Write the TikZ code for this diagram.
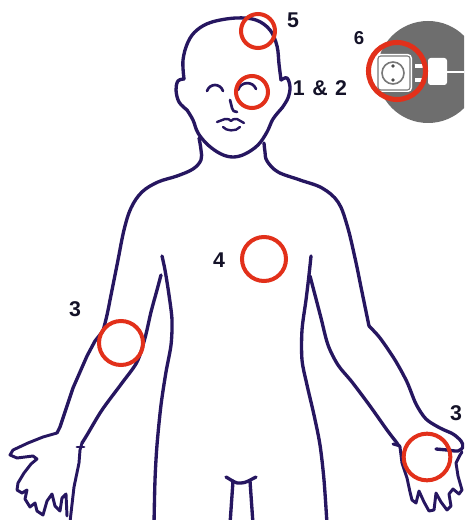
\documentclass[tikz,border=0pt]{standalone}
\usepackage{fontspec}
\setmainfont{Liberation Sans}
\definecolor{ink}{RGB}{38,22,96}
\definecolor{ringred}{RGB}{226,48,26}
\definecolor{plate}{RGB}{110,110,110}
\definecolor{socketline}{RGB}{120,120,120}
\definecolor{labelink}{RGB}{20,18,40}
\begin{document}
\begin{tikzpicture}[x=0.75pt,y=-0.75pt,
  outline/.style={draw=ink, line width=2.5pt, line join=round, line cap=round},
  thin outline/.style={outline, line width=2.2pt},
  ring/.style={circle, draw=ringred, line width=3pt, inner sep=0pt},
  num/.style={font=\fontsize{16}{18}\selectfont\bfseries, text=labelink, inner sep=0pt}]
\useasboundingbox (0,0) rectangle (464,520);
\clip (0,0) rectangle (464,520);
\fill[white] (0,0) rectangle (464,520);

% --- socket badge, top right ---
\fill[plate] (428,72) circle[radius=51];
\fill[white, rounded corners=3pt] (376,54) rectangle (412,92);
\draw[socketline, line width=0.8pt, rounded corners=2pt] (378,56) rectangle (410,90);
\draw[socketline, line width=1.2pt] (393,73) circle[radius=11];
\fill[black!70] (393,66) circle[radius=1.8];
\fill[black!70] (393,80) circle[radius=1.8];
\fill[white] (415,64) rectangle (426,68);
\fill[white] (415,78) rectangle (426,82);
\fill[white, rounded corners=2pt] (428,58) rectangle (447,85);
\draw[white, line width=1.5pt] (446,72) -- (470,72);

% --- head ---
\draw[outline] plot[smooth, tension=0.6] coordinates {(184,79) (183,60) (188,42) (197,30) (212,22) (236,18) (256,20) (270,30) (277,46) (279,64) (281,80)};
\draw[outline] plot[smooth, tension=0.6] coordinates {(184,79) (178,81) (176,90) (179,102) (187,110)};
\draw[outline] plot[smooth, tension=0.6] coordinates {(281,80) (287,78) (290,87) (288,98) (282,108)};
\draw[outline] plot[smooth, tension=0.6] coordinates {(187,110) (193,120) (198,133) (208,145) (221,154) (233,157) (245,154) (258,145) (267,132) (273,119) (282,108)};

% --- face ---
\draw[outline, line width=2pt] (207,91) .. controls (210,83) and (220,83) .. (223,91);
\draw[outline, line width=2pt] (238,90) .. controls (241,81) and (253,81) .. (256,89);
\draw[outline, line width=2pt] (230,100) -- (232,108) .. controls (233,111) .. (237,112);
\draw[outline, line width=1.8pt] (217,122) .. controls (221,121) .. (225,119) .. controls (228,118) and (230,120) .. (231,121) .. controls (232,120) and (234,118) .. (237,119) .. controls (240,121) .. (244,123);
\draw[outline, line width=1.8pt] (223,127) .. controls (226,131) and (236,132) .. (240,127);

% --- neck, shoulders and outer arms ---
\draw[outline] plot[smooth, tension=0.6] coordinates {(199,138) (201,150) (201,160) (193,169) (177,176) (158,182) (142,192) (131,208) (124,230) (118,260) (112,290) (107,315) (103,331)};
\draw[outline] (103,331) -- (95,341) -- (87,356) -- (73,388) -- (60,427) -- (57,433);
\draw[outline] plot[smooth, tension=0.6] coordinates {(264,143) (265,152) (267,161) (278,172) (300,180) (322,188) (338,202) (347,225) (355,258) (362,292) (369,326)};
\draw[outline] plot[smooth, tension=0.5] coordinates {(369,326) (380,338) (395,360) (407,382) (416,404) (426,419) (440,428) (453,434) (461,441) (463,447) (458,451) (447,450) (436,449)};

% --- left hand ---
\draw[thin outline] (57,433) -- (43,437) -- (28,443) -- (13,450) -- (10,455) -- (17,458) -- (33,456) -- (37,459)
  -- (31,464) -- (24,473) -- (18,483) -- (17,490) -- (22,493) -- (27,490) -- (25,499) -- (30,507) -- (35,503)
  -- (37,511) -- (43,515) -- (47,501) -- (52,494) -- (55,506) -- (60,511) -- (62,498) -- (66,494) -- (67,516);
\draw[thin outline] (82,443) -- (80,450) -- (79,463) -- (74,487) -- (70,522);
\draw[thin outline] (77,447) -- (84,447);

% --- inner arms ---
\draw[outline] plot[smooth, tension=0.5] coordinates {(161,275) (157,290) (151,312) (145,338) (137,362) (122,383) (102,410) (87,435) (82,443)};
\draw[outline] plot[smooth, tension=0.5] coordinates {(310,276) (315,295) (321,318) (328,345) (338,365) (352,382) (370,406) (387,430) (397,443)};

% --- torso sides ---
\draw[outline] plot[smooth, tension=0.5] coordinates {(162,256) (165,270) (169,295) (172,320) (171,345) (166,372) (161,405) (157,445) (155,480) (154,524)};
\draw[outline] plot[smooth, tension=0.5] coordinates {(311,256) (309,275) (306,300) (302,330) (302,360) (307,385) (314,415) (320,445) (324,480) (327,524)};

% --- right hand ---
\draw[thin outline] (397,443) -- (400,447) -- (402,463) -- (407,478) -- (410,492) -- (412,500) -- (416,503)
  -- (419,491) -- (424,502) -- (429,511) -- (434,510) -- (436,493) -- (441,502) -- (447,510) -- (451,506)
  -- (449,494) -- (453,489) -- (459,494) -- (462,490) -- (458,476) -- (456,463) -- (460,455) -- (462,452);
\draw[thin outline] (393,444) -- (400,446);

% --- legs ---
\draw[outline] (226,477) .. controls (233,481) and (236,484) .. (241,483) .. controls (246,483) and (250,480) .. (256,477);
\draw[outline] (233,481) -- (230,524);
\draw[outline] (250,481) -- (253,524);

% --- marked spots ---
\node[ring, minimum size=25.5pt] (spot5) at (258,31) {};
\node[ring, minimum size=24pt] (spot12) at (252,92) {};
\node[ring, minimum size=42.75pt, line width=3.8pt] (spot6) at (397,71) {};
\node[ring, minimum size=33pt] (spot4) at (264,259) {};
\node[ring, minimum size=33pt] (spot3a) at (121,343) {};
\node[ring, minimum size=35pt] (spot3b) at (427,457) {};

% --- labels ---
\node[num] (lab5) at (293,20) {5};
\node[num] (lab12) at (320,88) {1\hspace{0.35em}\&\hspace{0.35em}2};
\node[num, font=\fontsize{14}{16}\selectfont\bfseries] (lab6) at (359,38) {6};
\node[num] (lab4) at (219,260) {4};
\node[num] (lab3a) at (75,309) {3};
\node[num] (lab3b) at (456,413) {3};
\end{tikzpicture}
\end{document}
